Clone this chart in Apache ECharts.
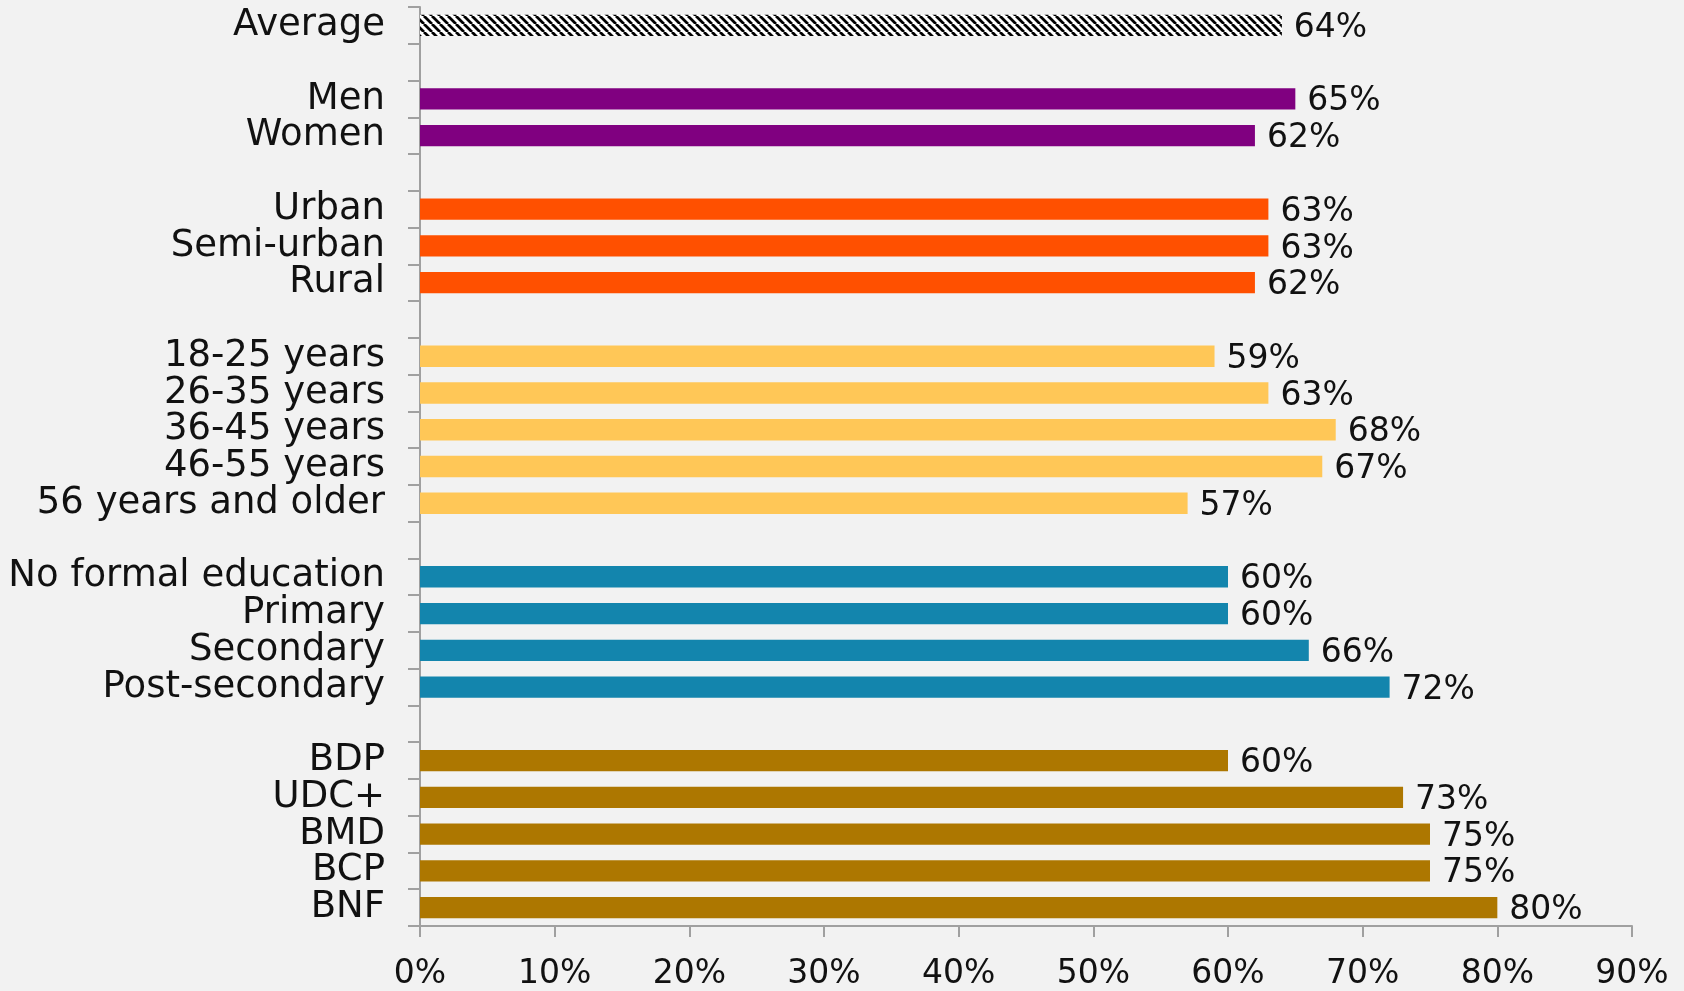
<!DOCTYPE html>
<html>
<head>
<meta charset="utf-8">
<script src="https://cdn.jsdelivr.net/npm/echarts@6/dist/echarts.min.js"></script>
<style>
html,body{margin:0;padding:0;background:#f2f2f2;}
#chart{width:1684px;height:991px;}
</style>
</head>
<body>
<div id="chart"></div>
<script>
// ---- data ----
const categories = [
  'Average', ' ',
  'Men', 'Women', '  ',
  'Urban', 'Semi-urban', 'Rural', '   ',
  '18-25 years', '26-35 years', '36-45 years', '46-55 years', '56 years and older', '    ',
  'No formal education', 'Primary', 'Secondary', 'Post-secondary', '     ',
  'BDP', 'UDC+', 'BMD', 'BCP', 'BNF'
];
const values = [
  64, null,
  65, 62, null,
  63, 63, 62, null,
  59, 63, 68, 67, 57, null,
  60, 60, 66, 72, null,
  60, 73, 75, 75, 80
];
const groups = [
  'avg', null,
  'gender', 'gender', null,
  'area', 'area', 'area', null,
  'age', 'age', 'age', 'age', 'age', null,
  'edu', 'edu', 'edu', 'edu', null,
  'party', 'party', 'party', 'party', 'party'
];
const xTicks = [0, 10, 20, 30, 40, 50, 60, 70, 80, 90];

// ---- styles ----
function stripePattern() {
  const c = document.createElement('canvas');
  c.width = 8; c.height = 8;
  const g = c.getContext('2d');
  g.fillStyle = '#ffffff';
  g.fillRect(0, 0, 8, 8);
  g.strokeStyle = '#000000';
  g.lineWidth = 2.8;
  g.beginPath();
  for (let k = -16; k <= 16; k += 8) {
    g.moveTo(k, 0);
    g.lineTo(k + 8, 8);
  }
  g.stroke();
  return {image: c, repeat: 'repeat'};
}
const groupColors = {
  avg: stripePattern(),
  gender: '#800080',
  area: '#ff5000',
  age: '#ffc757',
  edu: '#1385ad',
  party: '#ad7700'
};
const FONT = 'DejaVu Sans';
const FS_CAT = 37;
const FS_NUM = 33;

const seriesData = values.map((v, i) => {
  if (v === null) return '-';
  return {value: v, itemStyle: {color: groupColors[groups[i]]}};
});

const chart = echarts.init(document.getElementById('chart'), null, {renderer: 'canvas'});
chart.setOption({
  backgroundColor: '#f2f2f2',
  animation: false,
  grid: {left: 420, right: 52, top: 7, bottom: 65, containLabel: false},
  xAxis: {
    type: 'value',
    min: xTicks[0],
    max: xTicks[xTicks.length - 1],
    interval: 10,
    axisLine: {show: true, lineStyle: {color: '#a0a0a0', width: 2}},
    axisTick: {show: true, length: 11, lineStyle: {color: '#a0a0a0', width: 2}},
    splitLine: {show: false},
    axisLabel: {
      formatter: '{value}%', fontFamily: FONT, fontSize: FS_NUM, color: '#111', margin: 32
    }
  },
  yAxis: {
    type: 'category',
    inverse: true,
    data: categories,
    axisLine: {show: true, lineStyle: {color: '#a0a0a0', width: 2}},
    axisTick: {show: true, length: 12, alignWithLabel: false, lineStyle: {color: '#a0a0a0', width: 2}},
    axisLabel: {fontFamily: FONT, fontSize: FS_CAT, color: '#111', margin: 35, interval: 0}
  },
  series: [{
    type: 'bar',
    data: seriesData,
    barCategoryGap: '42%',
    label: {
      show: true, position: 'right', distance: 12, offset: [0, 3],
      formatter: p => p.value + '%',
      fontFamily: FONT, fontSize: FS_NUM, color: '#111'
    }
  }]
});
</script>
</body>
</html>
